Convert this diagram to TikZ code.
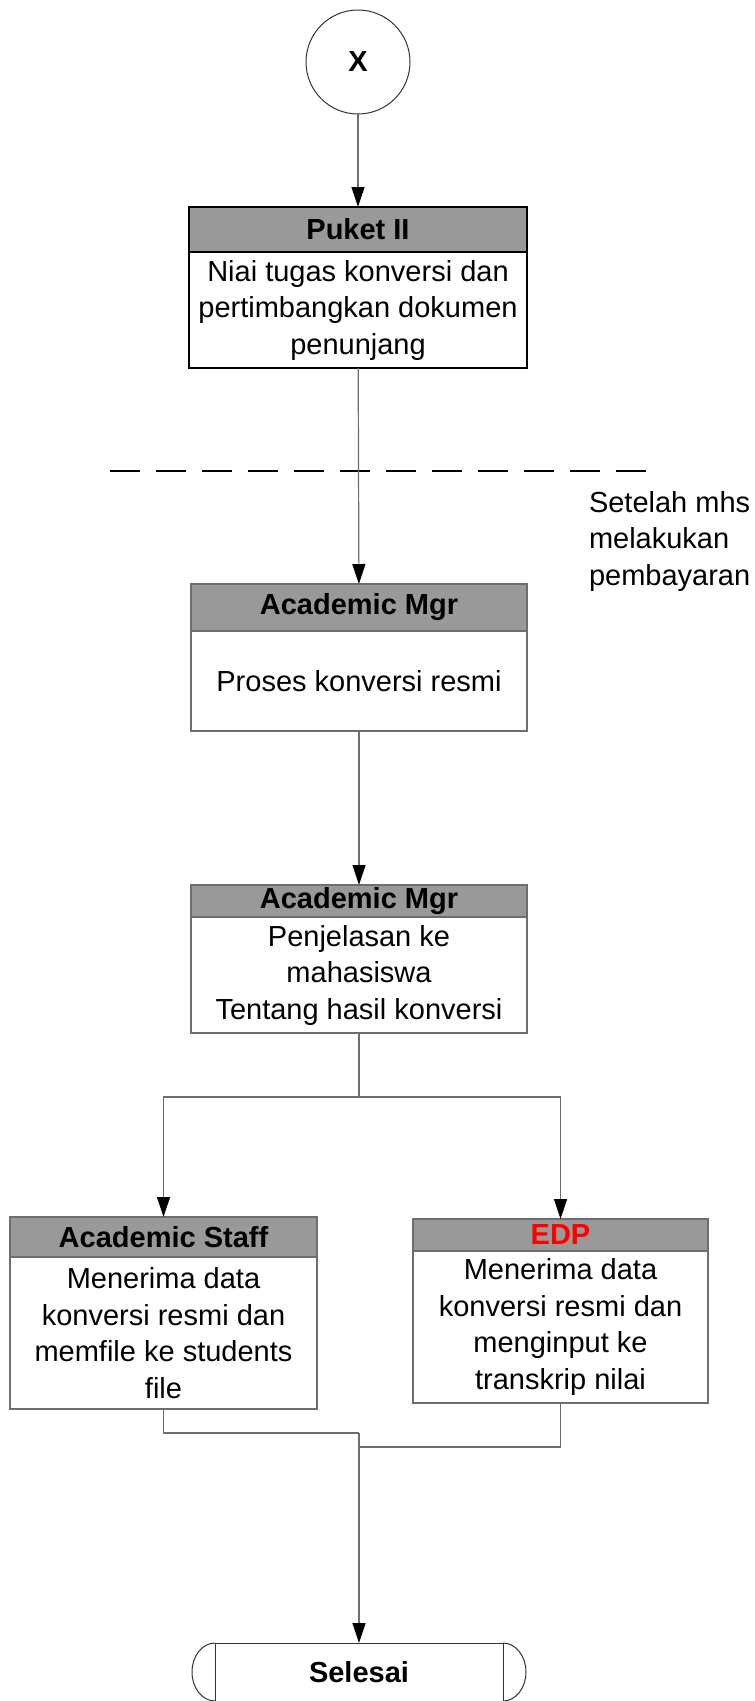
\documentclass[tikz,border=0pt]{standalone}
\usepackage{fontspec}
\setmainfont{Liberation Sans}
\usetikzlibrary{arrows.meta}
\definecolor{hdrgray}{HTML}{999999}
\definecolor{linegray}{HTML}{6E6E6E}

\begin{document}
\begin{tikzpicture}[x=1pt,y=-1pt,
	every node/.style={font=\fontsize{29}{36.5}\selectfont,inner sep=0pt,outer sep=0pt},
	hdr/.style={draw=linegray,line width=1.2pt,fill=hdrgray,font=\fontsize{29}{36.5}\selectfont\bfseries},
	body/.style={draw=linegray,line width=1.2pt,align=center},
	conn/.style={draw=linegray,line width=1.2pt},
	flow/.style={conn,-{Triangle[length=20pt,width=13pt,color=black]}}]
	\useasboundingbox (0,0) rectangle (755,1701);
	\node[circle,draw=black!80,line width=1pt,minimum size=104pt,font=\fontsize{29}{36.5}\selectfont\bfseries] (x) at (358,62) {X};
	\node[hdr,draw=black,line width=2pt,minimum width=338pt,minimum height=45pt] (puketH) at (358,229.5) {Puket II};
	\node[body,draw=black,line width=2pt,minimum width=338pt,minimum height=116pt] (puket) at (358,310) {Niai tugas konversi dan\\pertimbangkan dokumen\\penunjang};
	\draw[line width=1.5pt,dash pattern=on 30pt off 16pt] (110,471) -- (648,471);
	\node[align=left,anchor=west] (note) at (589,541) {Setelah mhs\\melakukan\\pembayaran};
	\node[hdr,minimum width=336pt,minimum height=47pt] (amgrH) at (359,607.5) {Academic Mgr};
	\node[body,minimum width=336pt,minimum height=100pt] (amgr) at (359,681) {Proses konversi resmi};
	\node[hdr,minimum width=336pt,minimum height=32pt] (amgrBH) at (359,901) {Academic Mgr};
	\node[body,minimum width=336pt,minimum height=116pt] (amgrB) at (359,975) {Penjelasan ke\\mahasiswa\\Tentang hasil konversi};
	\node[hdr,minimum width=307pt,minimum height=40pt] (staffH) at (163.5,1237) {Academic Staff};
	\node[body,minimum width=307pt,minimum height=152pt] (staff) at (163.5,1333) {Menerima data\\konversi resmi dan\\memfile ke students\\file};
	\node[hdr,text=red,minimum width=295pt,minimum height=32pt] (edpH) at (560.5,1235) {EDP};
	\node[body,minimum width=295pt,minimum height=152pt] (edp) at (560.5,1327) {Menerima data\\konversi resmi dan\\menginput ke\\transkrip nilai};
	\node[draw=black!80,line width=1pt,minimum width=288pt,minimum height=58pt,font=\fontsize{29}{36.5}\selectfont\bfseries] (selesai) at (359,1672) {Selesai};
	\draw[black!80,line width=1pt] (selesai.north west) arc (90:270:23pt and 29pt)
		(selesai.north east) arc (90:-90:23pt and 29pt);
	\coordinate (fork) at (359,1097);
	\coordinate (mergeL) at (359,1433);
	\coordinate (mergeR) at (359,1447);
	\path[flow]
	(x) edge (puketH)
	(puket) edge (amgrH)
	(amgr) edge (amgrBH);
	\draw[conn] (amgrB) -- (fork);
	\draw[flow] (fork) -| (staffH);
	\draw[flow] (fork) -| (edpH);
	\draw[conn] (staff) |- (mergeL);
	\draw[conn] (edp) |- (mergeR);
	\draw[flow] (mergeL) -- (selesai);
\end{tikzpicture}
\end{document}
